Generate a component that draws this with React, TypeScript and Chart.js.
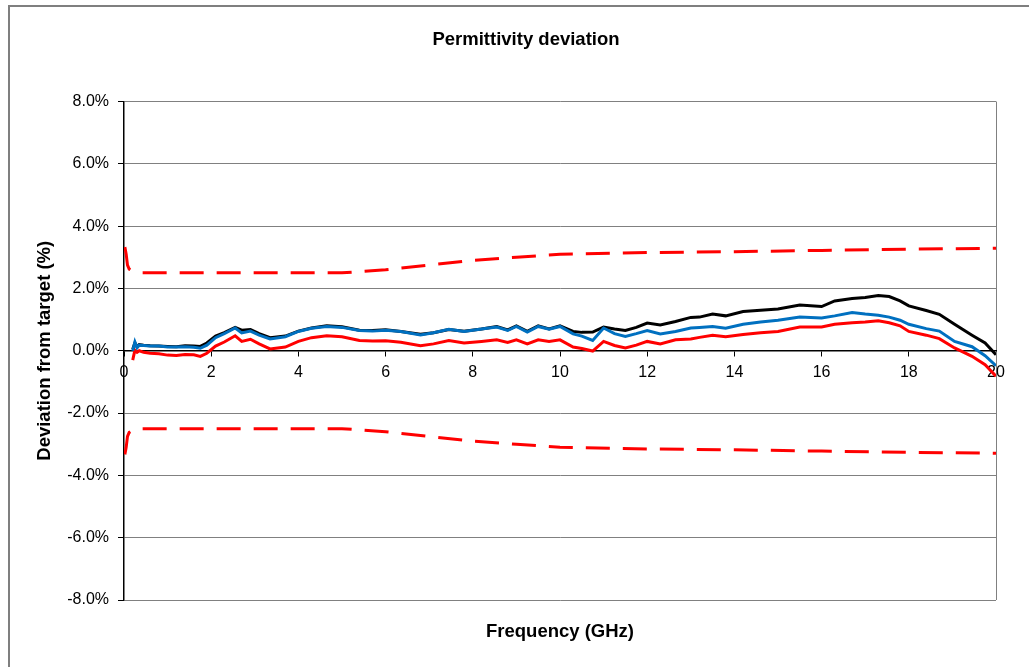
import React, { useEffect, useRef } from 'react';
import { Chart, registerables } from 'chart.js';

Chart.register(...registerables);

const chartTitle = 'Permittivity deviation';
const xTitle = 'Frequency (GHz)';
const yTitle = 'Deviation from target (%)';

const freq = [
  0.2, 0.25, 0.3, 0.35, 0.45, 0.6, 0.8, 1.0, 1.2, 1.4, 1.6, 1.75, 1.9, 2.1, 2.3, 2.55, 2.7, 2.9, 3.1, 3.35,
  3.7, 4.0, 4.3, 4.65, 5.0, 5.4, 5.7, 6.0, 6.35, 6.8, 7.1, 7.45, 7.8, 8.2, 8.55, 8.8, 9.0, 9.25, 9.5, 9.75,
  10.0, 10.3, 10.5, 10.75, 11.0, 11.25, 11.5, 11.75, 12.0, 12.3, 12.65, 13.0, 13.2, 13.5, 13.8, 14.2, 14.6,
  15.0, 15.5, 16.0, 16.3, 16.7, 17.0, 17.3, 17.55, 17.8, 18.0, 18.4, 18.7, 19.05, 19.45, 19.75, 20.0,
];

const blueSeries = [
  0.0, 0.28, 0.1, 0.18, 0.17, 0.15, 0.15, 0.12, 0.12, 0.13, 0.11, 0.08, 0.18, 0.42, 0.55, 0.73, 0.57, 0.63, 0.5, 0.38,
  0.45, 0.62, 0.72, 0.78, 0.75, 0.65, 0.63, 0.66, 0.62, 0.51, 0.58, 0.69, 0.62, 0.7, 0.76, 0.65, 0.78, 0.6, 0.78, 0.69,
  0.78, 0.54, 0.47, 0.33, 0.73, 0.55, 0.46, 0.55, 0.65, 0.54, 0.62, 0.73, 0.75, 0.78, 0.72, 0.85, 0.92,
  0.98, 1.08, 1.05, 1.12, 1.23, 1.18, 1.14, 1.08, 0.98, 0.85, 0.71, 0.63, 0.3, 0.13, -0.16, -0.48,
];

const blackSeries = [
  0.05, 0.25, 0.12, 0.2, 0.18, 0.16, 0.15, 0.14, 0.13, 0.16, 0.15, 0.14, 0.25, 0.47, 0.58, 0.75, 0.66, 0.68, 0.55, 0.42,
  0.47, 0.63, 0.73, 0.8, 0.77, 0.66, 0.65, 0.67, 0.62, 0.53, 0.58, 0.68, 0.63, 0.7, 0.78, 0.67, 0.8, 0.62, 0.8, 0.7,
  0.8, 0.62, 0.59, 0.6, 0.76, 0.7, 0.65, 0.75, 0.89, 0.83, 0.94, 1.07, 1.08, 1.18, 1.12, 1.26, 1.3,
  1.34, 1.47, 1.42, 1.6, 1.68, 1.71, 1.77, 1.74, 1.6, 1.44, 1.29, 1.17, 0.85, 0.5, 0.25, -0.13,
];

const redSeries = [
  -0.3, 0.02, -0.05, 0.0, -0.05, -0.08, -0.1, -0.14, -0.15, -0.12, -0.13, -0.18, -0.08, 0.15, 0.28, 0.48, 0.3, 0.37, 0.22, 0.06,
  0.12, 0.3, 0.42, 0.48, 0.45, 0.33, 0.31, 0.32, 0.27, 0.16, 0.22, 0.33, 0.25, 0.3, 0.35, 0.27, 0.35, 0.22, 0.35, 0.3,
  0.35, 0.12, 0.07, -0.01, 0.3, 0.17, 0.09, 0.18, 0.3, 0.22, 0.35, 0.38, 0.43, 0.5, 0.45, 0.52, 0.58,
  0.62, 0.76, 0.76, 0.85, 0.9, 0.92, 0.96, 0.9, 0.8, 0.62, 0.5, 0.39, 0.09, -0.18, -0.45, -0.82,
];

const limitFreq = [0.02, 0.05, 0.08, 0.12, 0.2, 0.3, 5.0, 6.0, 7.0, 8.0, 9.0, 10.0, 12.0, 14.0, 16.0, 18.0, 20.0];
const upperLimit = [3.33, 3.1, 2.75, 2.62, 2.55, 2.5, 2.5, 2.6, 2.75, 2.9, 3.0, 3.1, 3.15, 3.18, 3.22, 3.26, 3.29];
const lowerLimit = [-3.33, -3.1, -2.75, -2.62, -2.55, -2.5, -2.5, -2.6, -2.75, -2.9, -3.0, -3.1, -3.15, -3.18, -3.22, -3.26, -3.29];

const toPoints = (xs: number[], ys: number[]) => xs.map((x, i) => ({ x, y: ys[i] }));

const framePlugin = {
  id: 'frame',
  beforeDraw(chart: any) {
    const { ctx } = chart;
    ctx.save();
    ctx.fillStyle = '#ffffff';
    ctx.fillRect(0, 0, chart.width, chart.height);
    ctx.strokeStyle = '#7f7f7f';
    ctx.lineWidth = 2;
    ctx.strokeRect(9, 6, chart.width + 20, chart.height + 20);
    ctx.restore();
  },
};

export default function App() {
  const canvasRef = useRef<HTMLCanvasElement | null>(null);

  useEffect(() => {
    document.body.style.margin = '0';
    const canvas = canvasRef.current;
    if (!canvas) return;
    Chart.defaults.font.family = '"Liberation Sans", Arial, sans-serif';
    const lineBase = { pointRadius: 0, borderWidth: 3, tension: 0, fill: false, xAxisID: 'x', yAxisID: 'y' };
    const chart = new Chart(canvas, {
      type: 'line',
      data: {
        datasets: [
          { ...lineBase, label: 'Blue', data: toPoints(freq, blueSeries), borderColor: '#0070C0' },
          { ...lineBase, label: 'Black', data: toPoints(freq, blackSeries), borderColor: '#000000' },
          { ...lineBase, label: 'Red', data: toPoints(freq, redSeries), borderColor: '#FF0000' },
          { ...lineBase, label: 'Upper', data: toPoints(limitFreq, upperLimit), borderColor: '#FF0000', borderDash: [24, 13] },
          { ...lineBase, label: 'Lower', data: toPoints(limitFreq, lowerLimit), borderColor: '#FF0000', borderDash: [24, 13] },
        ],
      },
      options: {
        responsive: false,
        animation: false,
        layout: { padding: { left: 56, right: 33, top: 0, bottom: 0 } },
        plugins: {
          legend: { display: false },
          tooltip: { enabled: false },
          title: {
            display: true,
            text: chartTitle,
            color: '#000',
            font: { size: 18.5, weight: 'bold' },
            padding: { top: 28.9, bottom: 50.4 },
          },
        },
        scales: {
          x: {
            type: 'linear',
            axis: 'x',
            position: { y: 0 },
            min: 0,
            max: 20,
            ticks: { stepSize: 2, color: '#000', font: { size: 16 }, padding: 7, maxRotation: 0, autoSkip: false },
            grid: { display: true, drawOnChartArea: false, drawTicks: true, tickLength: 5, tickColor: '#000' },
            border: { display: true, color: '#000', width: 1.5 },
          },
          x2: {
            type: 'linear',
            axis: 'x',
            position: 'bottom',
            min: 0,
            max: 20,
            ticks: { display: false, stepSize: 20 },
            grid: {
              drawTicks: false,
              color: (c: any) => (c.tick && c.tick.value === 20 ? '#808080' : 'rgba(0,0,0,0)'),
            },
            border: { display: false },
            title: {
              display: true,
              text: xTitle,
              color: '#000',
              font: { size: 18.5, weight: 'bold' },
              padding: { top: 0, bottom: 23.9 },
            },
            afterFit: (s: any) => { s.height = 67; },
          },
          y: {
            type: 'linear',
            min: -8,
            max: 8,
            ticks: {
              stepSize: 2,
              color: '#000',
              font: { size: 16 },
              padding: 9,
              callback: (v: any) => Number(v).toFixed(1) + '%',
            },
            grid: {
              color: (c: any) => (c.tick && c.tick.value === 0 ? '#000' : '#808080'),
              tickColor: '#000',
              tickLength: 6,
              lineWidth: 1,
            },
            border: { display: true, color: '#000', width: 1.5 },
            title: {
              display: true,
              text: yTitle,
              color: '#000',
              font: { size: 18.5, weight: 'bold' },
              padding: { top: -22.1, bottom: 0 },
            },
            afterFit: (s: any) => { s.width = 68; },
          },
        },
      } as any,
      plugins: [framePlugin],
    });
    return () => chart.destroy();
  }, []);

  return (
    <div style={{ width: 1029, height: 667, overflow: 'hidden' }}>
      <canvas ref={canvasRef} width={1029} height={667} style={{ display: 'block' }} />
    </div>
  );
}
